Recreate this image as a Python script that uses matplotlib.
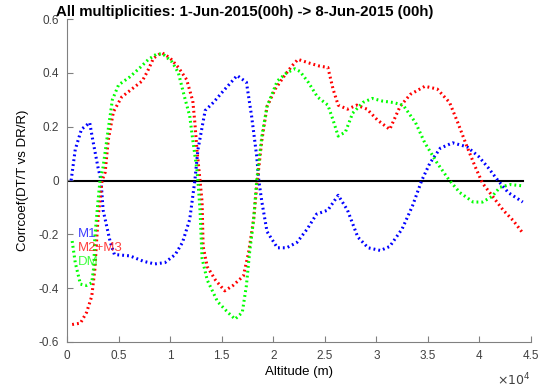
import numpy as np
import matplotlib
matplotlib.use("Agg")
from matplotlib import pyplot as plt

plt.rcParams["font.family"] = ["Liberation Sans", "DejaVu Sans"]

# altitude in km (plotted as metres), correlation values
m1_alt = [0.4, 0.8, 1.4, 2.2, 2.5, 3.0, 3.3, 3.5, 4.2, 4.6, 6.1, 7.4, 8.5, 9.5,
          10.5, 11.2, 11.9, 12.4, 12.7, 13.4, 14.2, 15.1, 16.5, 17.4, 17.9, 18.4,
          18.6, 18.9, 19.4, 20.4, 21.3, 22.3, 23.3, 24.2, 25.3, 26.3, 27.2, 28.2,
          29.2, 30.4, 31.3, 32.5, 33.5, 34.4, 35.2, 36.2, 37.4, 38.8, 39.9, 40.8,
          41.8, 42.8, 44.2]
m1_val = [0.0, 0.115, 0.19, 0.215, 0.15, 0.05, 0.0, -0.11, -0.23, -0.275, -0.28,
          -0.30, -0.31, -0.305, -0.275, -0.23, -0.145, 0.0, 0.115, 0.26, 0.29,
          0.33, 0.39, 0.365, 0.24, 0.09, 0.0, -0.08, -0.19, -0.25, -0.25, -0.23,
          -0.18, -0.125, -0.11, -0.055, -0.11, -0.21, -0.25, -0.26, -0.245, -0.18,
          -0.095, 0.0, 0.065, 0.12, 0.14, 0.125, 0.09, 0.05, 0.0, -0.045, -0.08]

m23_alt = [0.5, 1.3, 1.9, 2.4, 2.7, 3.0, 3.4, 3.7, 4.0, 4.5, 5.3, 6.3, 7.3, 7.8,
           8.4, 9.2, 10.0, 10.8, 11.6, 12.2, 12.4, 12.6, 12.9, 13.1, 13.2, 13.6,
           14.4, 15.3, 16.1, 17.1, 17.6, 18.1, 18.4, 18.9, 19.4, 20.2, 21.1, 21.8,
           22.4, 23.6, 24.5, 25.3, 25.8, 26.3, 27.2, 28.1, 29.1, 30.1, 31.3, 32.3,
           33.3, 34.7, 35.9, 37.1, 37.9, 38.8, 39.6, 40.3, 41.3, 42.3, 43.3, 44.2]
m23_val = [-0.535, -0.53, -0.49, -0.43, -0.33, -0.145, 0.0, 0.03, 0.15, 0.255,
           0.31, 0.34, 0.37, 0.405, 0.455, 0.475, 0.455, 0.42, 0.375, 0.295, 0.215,
           0.115, 0.0, -0.08, -0.245, -0.32, -0.37, -0.41, -0.39, -0.355, -0.27,
           -0.145, -0.02, 0.15, 0.275, 0.34, 0.39, 0.425, 0.45, 0.435, 0.425, 0.42,
           0.34, 0.28, 0.265, 0.28, 0.265, 0.225, 0.19, 0.275, 0.32, 0.35, 0.34,
           0.29, 0.215, 0.125, 0.05, -0.01, -0.06, -0.11, -0.15, -0.195]

dm_alt = [0.5, 0.8, 1.3, 1.9, 2.4, 2.6, 2.7, 3.0, 3.2, 3.5, 4.0, 4.4, 5.0, 6.1,
          7.1, 7.9, 8.7, 9.3, 10.2, 10.8, 11.4, 11.9, 12.2, 12.6, 12.7, 12.9, 13.1,
          13.6, 14.6, 15.6, 16.3, 17.0, 17.4, 17.7, 18.1, 18.4, 18.9, 19.4, 20.4,
          21.3, 22.1, 22.6, 23.4, 24.3, 25.3, 25.8, 26.3, 27.0, 27.7, 28.7, 29.6,
          30.6, 31.6, 32.6, 33.8, 34.7, 35.9, 37.0, 38.1, 39.4, 40.3, 41.2, 42.0,
          43.0, 44.2]
dm_val = [-0.225, -0.305, -0.385, -0.39, -0.38, -0.32, -0.21, -0.08, 0.0, 0.05,
          0.19, 0.30, 0.355, 0.385, 0.42, 0.45, 0.47, 0.47, 0.44, 0.40, 0.31, 0.24,
          0.15, 0.04, 0.0, -0.11, -0.29, -0.37, -0.45, -0.49, -0.515, -0.49, -0.39,
          -0.27, -0.145, 0.0, 0.165, 0.275, 0.37, 0.40, 0.415, 0.405, 0.365, 0.31,
          0.28, 0.225, 0.165, 0.18, 0.25, 0.29, 0.305, 0.295, 0.29, 0.28, 0.215,
          0.14, 0.065, 0.005, -0.045, -0.08, -0.08, -0.06, -0.025, -0.015, -0.02]

series = [("M1", m1_alt, m1_val, "#0000ff"),
          ("M2+M3", m23_alt, m23_val, "#ff0000"),
          ("DM", dm_alt, dm_val, "#00ff00")]

fig = plt.figure(figsize=(5.49, 3.91), dpi=100)
ax = fig.add_axes([67 / 549, 1 - 342 / 391, 464 / 549, 323 / 391])

ax.plot([0, 44200], [0, 0], color="black", lw=1.5, zorder=1)
for name, alt, val, col in series:
    ax.plot(np.array(alt) * 1000, val, color=col, lw=2.2, linestyle=(0, (0.6, 1.0)),
            dash_capstyle="butt", zorder=2)

for i, (name, alt, val, col) in enumerate(series):
    ax.text(1100, -0.197 - 0.052 * i, name, color=col, fontsize=9.5, va="center",
            ha="left", alpha=0.75)

ax.set_xlim(0, 45000)
ax.set_ylim(-0.6, 0.6)
ax.set_xticks(np.arange(0, 45001, 5000))
ax.set_xticklabels(["0", "0.5", "1", "1.5", "2", "2.5", "3", "3.5", "4", "4.5"])
ax.set_yticks(np.arange(-0.6, 0.61, 0.2))
ax.set_yticklabels(["-0.6", "-0.4", "-0.2", "0", "0.2", "0.4", "0.6"])
ax.tick_params(direction="in", length=4, color="#808080", labelcolor="#404040",
               labelsize=8.5, pad=6)
for s in ["top", "right"]:
    ax.spines[s].set_visible(False)
for s in ["left", "bottom"]:
    ax.spines[s].set_color("#808080")

ax.set_xlabel("Altitude (m)", fontsize=9.5, labelpad=3)
ax.set_ylabel("Corrcoef(DT/T vs DR/R)", fontsize=9.5, labelpad=7)
fig.text(497 / 549, 1 - 380 / 391, r"$\times10^{4}$", fontsize=9, color="#404040",
         va="center", ha="left")
fig.text(245 / 549, 1 - 12 / 391, "All multiplicities: 1-Jun-2015(00h) -> 8-Jun-2015 (00h)",
         fontsize=10.8, fontweight="bold", ha="center", va="center")

fig.savefig("out.png", dpi=100)
